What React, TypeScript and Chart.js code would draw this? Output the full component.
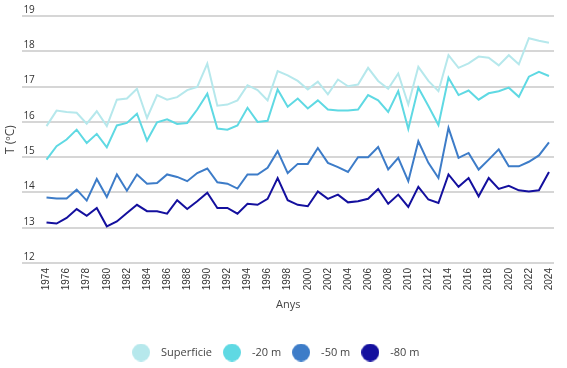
import React, { useEffect, useRef } from "react";
import { Chart, registerables } from "chart.js";

Chart.register(...registerables);

const years = [
  1974, 1975, 1976, 1977, 1978, 1979, 1980, 1981, 1982, 1983, 1984, 1985, 1986,
  1987, 1988, 1989, 1990, 1991, 1992, 1993, 1994, 1995, 1996, 1997, 1998, 1999,
  2000, 2001, 2002, 2003, 2004, 2005, 2006, 2007, 2008, 2009, 2010, 2011, 2012,
  2013, 2014, 2015, 2016, 2017, 2018, 2019, 2020, 2021, 2022, 2023, 2024,
];

const tickYears = [
  1974, 1976, 1978, 1980, 1982, 1984, 1986, 1988, 1990, 1992, 1994, 1996, 1998,
  2000, 2002, 2004, 2006, 2008, 2010, 2012, 2014, 2016, 2018, 2020, 2022, 2024,
];

const superficie = [
  15.88, 16.32, 16.28, 16.26, 15.95, 16.3, 15.88, 16.63, 16.66, 16.94, 16.11, 16.76,
  16.63, 16.7, 16.9, 16.99, 17.65, 16.46, 16.49, 16.61, 17.04, 16.9, 16.61, 17.44,
  17.32, 17.16, 16.92, 17.14, 16.78, 17.2, 17.01, 17.06, 17.53, 17.16, 16.94, 17.37,
  16.49, 17.56, 17.16, 16.87, 17.89, 17.53, 17.66, 17.85, 17.82, 17.6, 17.89, 17.63,
  18.37, 18.3, 18.24,
];

const m20 = [
  14.93, 15.31, 15.5, 15.78, 15.4, 15.66, 15.28, 15.9, 15.97, 16.23, 15.47, 15.99,
  16.07, 15.94, 15.97, 16.35, 16.8, 15.81, 15.78, 15.9, 16.4, 16.0, 16.03, 16.92,
  16.43, 16.66, 16.38, 16.61, 16.35, 16.32, 16.32, 16.35, 16.76, 16.61, 16.28, 16.87,
  15.8, 16.97, 16.45, 15.91, 17.25, 16.76, 16.89, 16.63, 16.81, 16.87, 16.97, 16.71,
  17.28, 17.42, 17.3,
];

const m50 = [
  13.86, 13.83, 13.83, 14.08, 13.77, 14.38, 13.87, 14.51, 14.05, 14.51, 14.25, 14.27,
  14.51, 14.44, 14.32, 14.55, 14.68, 14.29, 14.25, 14.11, 14.51, 14.51, 14.7, 15.17,
  14.55, 14.81, 14.81, 15.26, 14.84, 14.72, 14.58, 15.0, 15.0, 15.29, 14.65, 14.98,
  14.32, 15.45, 14.84, 14.41, 15.83, 14.98, 15.12, 14.65, 14.93, 15.22, 14.74, 14.74,
  14.87, 15.05, 15.42,
];

const m80 = [
  13.15, 13.12, 13.28, 13.53, 13.34, 13.56, 13.04, 13.18, 13.42, 13.65, 13.47, 13.47,
  13.4, 13.78, 13.53, 13.75, 13.99, 13.56, 13.56, 13.4, 13.68, 13.65, 13.82, 14.41,
  13.78, 13.65, 13.61, 14.03, 13.82, 13.94, 13.72, 13.75, 13.82, 14.1, 13.68, 13.94,
  13.59, 14.16, 13.8, 13.7, 14.51, 14.16, 14.41, 13.89, 14.41, 14.1, 14.19, 14.06,
  14.03, 14.06, 14.58,
];

const seriesNames = ["Superficie", "-20 m", "-50 m", "-80 m"];
const seriesValues = [superficie, m20, m50, m80];
const seriesColors = ["#b6e8ec", "#5fd9e3", "#3d7cc8", "#14109e"];

function makeDot(color: string, size: number) {
  const c = document.createElement("canvas");
  c.width = size;
  c.height = size;
  const ctx = c.getContext("2d");
  if (ctx) {
    ctx.fillStyle = color;
    ctx.beginPath();
    ctx.arc(size / 2, size / 2, size / 2, 0, Math.PI * 2);
    ctx.fill();
  }
  return c;
}

const legendShift = {
  id: "legendShift",
  afterLayout(chart: any) {
    if (chart.legend) {
      chart.legend.left -= 4;
      chart.legend.right -= 4;
    }
  },
};

export default function App() {
  const ref = useRef<HTMLCanvasElement | null>(null);

  useEffect(() => {
    if (!ref.current) return;
    const datasets = seriesNames.map((name, i) => ({
      label: name,
      data: years.map((yr, j) => ({ x: yr, y: seriesValues[i][j] })),
      borderColor: seriesColors[i],
      backgroundColor: seriesColors[i],
      borderWidth: 2,
      pointRadius: 0,
      pointStyle: makeDot(seriesColors[i], 18),
      tension: 0,
      fill: false,
    }));

    const chart = new Chart(ref.current, {
      type: "line",
      data: { datasets },
      plugins: [legendShift],
      options: {
        responsive: false,
        animation: false,
        events: [],
        layout: { padding: { top: 16, right: 13, bottom: 0, left: 0 } },
        plugins: {
          tooltip: { enabled: false },
          legend: {
            position: "bottom",
            labels: {
              usePointStyle: true,
              pointStyleWidth: 29,
              padding: 5.5,
              color: "#444",
              font: { family: "Open Sans", size: 11 },
            },
          },
        },
        scales: {
          x: {
            type: "linear",
            bounds: "data",
            min: 1971.6,
            max: 2024.5,
            afterBuildTicks: (axis: any) => {
              axis.ticks = tickYears.map((v) => ({ value: v }));
            },
            grid: { display: false, drawTicks: false },
            border: { display: false },
            ticks: {
              autoSkip: false,
              maxRotation: 90,
              minRotation: 90,
              padding: 5,
              color: "#333",
              font: { family: "Liberation Sans", size: 10 },
              callback: (v: any) => String(v),
            },
            title: {
              display: true,
              text: "Anys",
              color: "#444",
              font: { family: "Open Sans", size: 11 },
              padding: { top: 3, bottom: 30 },
            },
          },
          y: {
            min: 12,
            max: 19,
            ticks: {
              stepSize: 1,
              mirror: true,
              padding: 1,
              labelOffset: -6,
              color: "#333",
              font: { family: "Open Sans", size: 10 },
            },
            grid: { color: "#d6d6d6", lineWidth: 2, drawTicks: false },
            border: { display: false },
            title: {
              display: true,
              text: "T (ºC)",
              color: "#444",
              font: { family: "Open Sans", size: 12 },
              padding: { top: 3, bottom: 3 },
            },
          },
        },
      } as any,
    });
    return () => chart.destroy();
  }, []);

  return (
    <div style={{ position: "fixed", left: 0, top: 0, width: 567, height: 368, background: "#fff" }}>
      <canvas ref={ref} width={567} height={368} style={{ display: "block" }} />
    </div>
  );
}
